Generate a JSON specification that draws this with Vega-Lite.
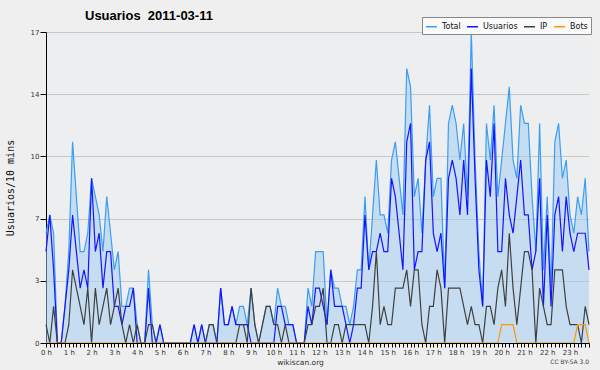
{
  "$schema": "https://vega.github.io/schema/vega-lite/v6.json",
  "width": 543,
  "height": 311,
  "autosize": {"type": "none"},
  "padding": {"left": 46, "top": 32, "right": 11, "bottom": 27},
  "background": "#efefef",
  "config": {
    "view": {"fill": "#edeef0", "stroke": null},
    "font": "DejaVu Sans",
    "axis": {"labelOverlap": false, "labelBound": false, "labelFlush": false}
  },
  "title": {"text": "Usuarios\u00a0\u00a02011-03-11", "anchor": "start", "frame": "group", "dx": 39, "dy": 27, "font": "Liberation Sans", "fontSize": 13, "fontWeight": "bold", "color": "#000", "baseline": "alphabetic", "offset": 11},
  "data": {"values": [
    {"i":0,"Total":6,"Usuarios":5,"IP":1,"Bots":0},
    {"i":1,"Total":7,"Usuarios":7,"IP":0,"Bots":0},
    {"i":2,"Total":6,"Usuarios":4,"IP":2,"Bots":0},
    {"i":3,"Total":0,"Usuarios":0,"IP":0,"Bots":0},
    {"i":4,"Total":0,"Usuarios":0,"IP":0,"Bots":0},
    {"i":5,"Total":2,"Usuarios":2,"IP":0,"Bots":0},
    {"i":6,"Total":5,"Usuarios":4,"IP":1,"Bots":0},
    {"i":7,"Total":11,"Usuarios":7,"IP":4,"Bots":0},
    {"i":8,"Total":8,"Usuarios":5,"IP":3,"Bots":0},
    {"i":9,"Total":5,"Usuarios":3,"IP":2,"Bots":0},
    {"i":10,"Total":5,"Usuarios":4,"IP":1,"Bots":0},
    {"i":11,"Total":6,"Usuarios":3,"IP":3,"Bots":0},
    {"i":12,"Total":9,"Usuarios":9,"IP":0,"Bots":0},
    {"i":13,"Total":8,"Usuarios":5,"IP":3,"Bots":0},
    {"i":14,"Total":7,"Usuarios":6,"IP":1,"Bots":0},
    {"i":15,"Total":5,"Usuarios":3,"IP":2,"Bots":0},
    {"i":16,"Total":8,"Usuarios":5,"IP":3,"Bots":0},
    {"i":17,"Total":6,"Usuarios":5,"IP":1,"Bots":0},
    {"i":18,"Total":4,"Usuarios":2,"IP":2,"Bots":0},
    {"i":19,"Total":5,"Usuarios":2,"IP":3,"Bots":0},
    {"i":20,"Total":2,"Usuarios":1,"IP":1,"Bots":0},
    {"i":21,"Total":2,"Usuarios":2,"IP":0,"Bots":0},
    {"i":22,"Total":3,"Usuarios":2,"IP":1,"Bots":0},
    {"i":23,"Total":3,"Usuarios":3,"IP":0,"Bots":0},
    {"i":24,"Total":1,"Usuarios":0,"IP":1,"Bots":0},
    {"i":25,"Total":0,"Usuarios":0,"IP":0,"Bots":0},
    {"i":26,"Total":0,"Usuarios":0,"IP":0,"Bots":0},
    {"i":27,"Total":4,"Usuarios":3,"IP":1,"Bots":0},
    {"i":28,"Total":1,"Usuarios":0,"IP":1,"Bots":0},
    {"i":29,"Total":0,"Usuarios":0,"IP":0,"Bots":0},
    {"i":30,"Total":1,"Usuarios":1,"IP":0,"Bots":0},
    {"i":31,"Total":0,"Usuarios":0,"IP":0,"Bots":0},
    {"i":32,"Total":0,"Usuarios":0,"IP":0,"Bots":0},
    {"i":33,"Total":0,"Usuarios":0,"IP":0,"Bots":0},
    {"i":34,"Total":0,"Usuarios":0,"IP":0,"Bots":0},
    {"i":35,"Total":0,"Usuarios":0,"IP":0,"Bots":0},
    {"i":36,"Total":0,"Usuarios":0,"IP":0,"Bots":0},
    {"i":37,"Total":0,"Usuarios":0,"IP":0,"Bots":0},
    {"i":38,"Total":0,"Usuarios":0,"IP":0,"Bots":0},
    {"i":39,"Total":1,"Usuarios":1,"IP":0,"Bots":0},
    {"i":40,"Total":0,"Usuarios":0,"IP":0,"Bots":0},
    {"i":41,"Total":1,"Usuarios":1,"IP":0,"Bots":0},
    {"i":42,"Total":0,"Usuarios":0,"IP":0,"Bots":0},
    {"i":43,"Total":1,"Usuarios":0,"IP":1,"Bots":0},
    {"i":44,"Total":1,"Usuarios":0,"IP":1,"Bots":0},
    {"i":45,"Total":0,"Usuarios":0,"IP":0,"Bots":0},
    {"i":46,"Total":3,"Usuarios":3,"IP":0,"Bots":0},
    {"i":47,"Total":1,"Usuarios":1,"IP":0,"Bots":0},
    {"i":48,"Total":1,"Usuarios":1,"IP":0,"Bots":0},
    {"i":49,"Total":2,"Usuarios":2,"IP":0,"Bots":0},
    {"i":50,"Total":1,"Usuarios":1,"IP":0,"Bots":0},
    {"i":51,"Total":2,"Usuarios":1,"IP":1,"Bots":0},
    {"i":52,"Total":2,"Usuarios":1,"IP":1,"Bots":0},
    {"i":53,"Total":1,"Usuarios":1,"IP":0,"Bots":0},
    {"i":54,"Total":3,"Usuarios":0,"IP":3,"Bots":0},
    {"i":55,"Total":1,"Usuarios":0,"IP":1,"Bots":0},
    {"i":56,"Total":0,"Usuarios":0,"IP":0,"Bots":0},
    {"i":57,"Total":1,"Usuarios":0,"IP":1,"Bots":0},
    {"i":58,"Total":2,"Usuarios":0,"IP":2,"Bots":0},
    {"i":59,"Total":2,"Usuarios":0,"IP":2,"Bots":0},
    {"i":60,"Total":1,"Usuarios":0,"IP":1,"Bots":0},
    {"i":61,"Total":3,"Usuarios":2,"IP":1,"Bots":0},
    {"i":62,"Total":2,"Usuarios":2,"IP":0,"Bots":0},
    {"i":63,"Total":2,"Usuarios":1,"IP":1,"Bots":0},
    {"i":64,"Total":1,"Usuarios":1,"IP":0,"Bots":0},
    {"i":65,"Total":1,"Usuarios":1,"IP":0,"Bots":0},
    {"i":66,"Total":0,"Usuarios":0,"IP":0,"Bots":0},
    {"i":67,"Total":0,"Usuarios":0,"IP":0,"Bots":0},
    {"i":68,"Total":0,"Usuarios":0,"IP":0,"Bots":0},
    {"i":69,"Total":3,"Usuarios":2,"IP":1,"Bots":0},
    {"i":70,"Total":2,"Usuarios":1,"IP":1,"Bots":0},
    {"i":71,"Total":5,"Usuarios":3,"IP":2,"Bots":0},
    {"i":72,"Total":5,"Usuarios":3,"IP":2,"Bots":0},
    {"i":73,"Total":5,"Usuarios":2,"IP":3,"Bots":0},
    {"i":74,"Total":1,"Usuarios":1,"IP":0,"Bots":0},
    {"i":75,"Total":4,"Usuarios":4,"IP":0,"Bots":0},
    {"i":76,"Total":3,"Usuarios":2,"IP":1,"Bots":0},
    {"i":77,"Total":3,"Usuarios":2,"IP":1,"Bots":0},
    {"i":78,"Total":2,"Usuarios":2,"IP":0,"Bots":0},
    {"i":79,"Total":2,"Usuarios":1,"IP":1,"Bots":0},
    {"i":80,"Total":1,"Usuarios":0,"IP":1,"Bots":0},
    {"i":81,"Total":2,"Usuarios":1,"IP":1,"Bots":0},
    {"i":82,"Total":4,"Usuarios":3,"IP":1,"Bots":0},
    {"i":83,"Total":4,"Usuarios":3,"IP":1,"Bots":0},
    {"i":84,"Total":8,"Usuarios":7,"IP":1,"Bots":0},
    {"i":85,"Total":4,"Usuarios":4,"IP":0,"Bots":0},
    {"i":86,"Total":7,"Usuarios":5,"IP":2,"Bots":0},
    {"i":87,"Total":10,"Usuarios":5,"IP":5,"Bots":0},
    {"i":88,"Total":7,"Usuarios":6,"IP":1,"Bots":0},
    {"i":89,"Total":7,"Usuarios":5,"IP":2,"Bots":0},
    {"i":90,"Total":6,"Usuarios":5,"IP":1,"Bots":0},
    {"i":91,"Total":10,"Usuarios":9,"IP":1,"Bots":0},
    {"i":92,"Total":11,"Usuarios":8,"IP":3,"Bots":0},
    {"i":93,"Total":9,"Usuarios":6,"IP":3,"Bots":0},
    {"i":94,"Total":7,"Usuarios":4,"IP":3,"Bots":0},
    {"i":95,"Total":15,"Usuarios":11,"IP":4,"Bots":0},
    {"i":96,"Total":14,"Usuarios":12,"IP":2,"Bots":0},
    {"i":97,"Total":8,"Usuarios":4,"IP":4,"Bots":0},
    {"i":98,"Total":9,"Usuarios":5,"IP":4,"Bots":0},
    {"i":99,"Total":6,"Usuarios":5,"IP":1,"Bots":0},
    {"i":100,"Total":10,"Usuarios":10,"IP":0,"Bots":0},
    {"i":101,"Total":13,"Usuarios":11,"IP":2,"Bots":0},
    {"i":102,"Total":8,"Usuarios":6,"IP":2,"Bots":0},
    {"i":103,"Total":9,"Usuarios":5,"IP":4,"Bots":0},
    {"i":104,"Total":9,"Usuarios":6,"IP":3,"Bots":0},
    {"i":105,"Total":3,"Usuarios":3,"IP":0,"Bots":0},
    {"i":106,"Total":12,"Usuarios":9,"IP":3,"Bots":0},
    {"i":107,"Total":13,"Usuarios":10,"IP":3,"Bots":0},
    {"i":108,"Total":12,"Usuarios":9,"IP":3,"Bots":0},
    {"i":109,"Total":10,"Usuarios":7,"IP":3,"Bots":0},
    {"i":110,"Total":12,"Usuarios":10,"IP":2,"Bots":0},
    {"i":111,"Total":8,"Usuarios":7,"IP":1,"Bots":0},
    {"i":112,"Total":17,"Usuarios":15,"IP":2,"Bots":0},
    {"i":113,"Total":10,"Usuarios":9,"IP":1,"Bots":0},
    {"i":114,"Total":5,"Usuarios":4,"IP":1,"Bots":0},
    {"i":115,"Total":2,"Usuarios":2,"IP":0,"Bots":0},
    {"i":116,"Total":12,"Usuarios":10,"IP":2,"Bots":0},
    {"i":117,"Total":10,"Usuarios":8,"IP":2,"Bots":0},
    {"i":118,"Total":13,"Usuarios":12,"IP":1,"Bots":0},
    {"i":119,"Total":8,"Usuarios":5,"IP":3,"Bots":0},
    {"i":120,"Total":10,"Usuarios":5,"IP":4,"Bots":1},
    {"i":121,"Total":12,"Usuarios":9,"IP":2,"Bots":1},
    {"i":122,"Total":14,"Usuarios":7,"IP":6,"Bots":1},
    {"i":123,"Total":10,"Usuarios":6,"IP":3,"Bots":1},
    {"i":124,"Total":9,"Usuarios":8,"IP":1,"Bots":0},
    {"i":125,"Total":13,"Usuarios":10,"IP":3,"Bots":0},
    {"i":126,"Total":12,"Usuarios":7,"IP":5,"Bots":0},
    {"i":127,"Total":12,"Usuarios":7,"IP":5,"Bots":0},
    {"i":128,"Total":8,"Usuarios":4,"IP":4,"Bots":0},
    {"i":129,"Total":5,"Usuarios":5,"IP":0,"Bots":0},
    {"i":130,"Total":12,"Usuarios":9,"IP":3,"Bots":0},
    {"i":131,"Total":4,"Usuarios":2,"IP":2,"Bots":0},
    {"i":132,"Total":8,"Usuarios":7,"IP":1,"Bots":0},
    {"i":133,"Total":3,"Usuarios":2,"IP":1,"Bots":0},
    {"i":134,"Total":11,"Usuarios":7,"IP":4,"Bots":0},
    {"i":135,"Total":12,"Usuarios":8,"IP":4,"Bots":0},
    {"i":136,"Total":9,"Usuarios":5,"IP":4,"Bots":0},
    {"i":137,"Total":10,"Usuarios":8,"IP":2,"Bots":0},
    {"i":138,"Total":7,"Usuarios":6,"IP":1,"Bots":0},
    {"i":139,"Total":6,"Usuarios":5,"IP":1,"Bots":0},
    {"i":140,"Total":8,"Usuarios":6,"IP":1,"Bots":1},
    {"i":141,"Total":7,"Usuarios":6,"IP":0,"Bots":1},
    {"i":142,"Total":9,"Usuarios":6,"IP":2,"Bots":1},
    {"i":143,"Total":5,"Usuarios":4,"IP":1,"Bots":0}
  ]},
  "encoding": {
    "x": {"field": "i", "type": "quantitative",
      "scale": {"domain": [0, 143], "nice": false, "zero": false},
      "axis": {
        "values": [0,1,2,3,4,5,6,7,8,9,10,11,12,13,14,15,16,17,18,19,20,21,22,23,24,25,26,27,28,29,30,31,32,33,34,35,36,37,38,39,40,41,42,43,44,45,46,47,48,49,50,51,52,53,54,55,56,57,58,59,60,61,62,63,64,65,66,67,68,69,70,71,72,73,74,75,76,77,78,79,80,81,82,83,84,85,86,87,88,89,90,91,92,93,94,95,96,97,98,99,100,101,102,103,104,105,106,107,108,109,110,111,112,113,114,115,116,117,118,119,120,121,122,123,124,125,126,127,128,129,130,131,132,133,134,135,136,137,138,139,140,141,142,143],
        "labelExpr": "datum.value % 6 == 0 ? (datum.value / 6) + ' h' : ''",
        "labelOverlap": false, "labelBound": false, "labelFlush": false,
        "tickSize": 4, "tickColor": "#000", "domainColor": "#000",
        "labelFontSize": 7, "labelColor": "#333", "labelPadding": 1,
        "grid": false, "zindex": 1,
        "title": "wikiscan.org", "titleFontSize": 7.5, "titleFontWeight": "normal",
        "titleColor": "#333", "titleX": 254, "titleY": 19, "titleBaseline": "middle", "titleAlign": "center"
      }}
  },
  "layer": [
    {
      "mark": {"type": "area", "color": "#9fccf2", "opacity": 0.5},
      "encoding": {
        "y": {"field": "Total", "type": "quantitative",
          "scale": {"domain": [0, 17], "nice": false},
          "axis": {
            "values": [0,0.85,1.7,2.55,3.4,4.25,5.1,5.95,6.8,7.65,8.5,9.35,10.2,11.05,11.9,12.75,13.6,14.45,15.3,16.15,17],
            "labelExpr": "indexof([0,3.4,6.8,10.2,13.6,17], datum.value) >= 0 ? format(round(datum.value), 'd') : ''",
            "labelOverlap": false, "labelBound": false, "labelFlush": false,
            "tickSize": {"condition": {"test": "indexof([0,3.4,6.8,10.2,13.6,17], datum.value) >= 0", "value": 6}, "value": 3},
            "grid": true, "gridColor": "#c8c8c8",
            "gridOpacity": {"condition": {"test": "indexof([3.4,6.8,10.2,13.6,17], datum.value) >= 0", "value": 1}, "value": 0},
            "tickColor": "#000", "domainColor": "#000",
            "labelFontSize": 7, "labelColor": "#333", "labelPadding": 1,
            "title": "Usuarios/10 mins", "titleFont": "DejaVu Sans Mono", "titleFontSize": 10,
            "titleFontWeight": "normal", "titleColor": "#111",
            "titleX": -36, "titleY": 155.5, "titleBaseline": "middle", "titleAlign": "center"
          }}
      }
    },
    {
      "transform": [{"fold": ["Total", "Usuarios", "IP", "Bots"], "as": ["serie", "v"]}],
      "mark": {"type": "line", "strokeWidth": 1.2},
      "encoding": {
        "y": {"field": "v", "type": "quantitative"},
        "color": {"field": "serie", "type": "nominal",
          "scale": {"domain": ["Total", "Usuarios", "IP", "Bots"], "range": ["#3b9ef3", "#1414ff", "#404040", "#ff9900"]},
          "legend": {"title": null, "orient": "none", "legendX": 376, "legendY": -15, "direction": "horizontal",
            "symbolType": "stroke", "symbolStrokeWidth": 1.5, "symbolSize": 121,
            "labelFont": "DejaVu Sans", "labelFontSize": 8, "labelColor": "#111", "labelOffset": 4,
            "columnPadding": 3, "padding": 3, "fillColor": "#fafafa", "strokeColor": "#888"}}
      }
    },
    {
      "transform": [{"filter": "datum.i == 143"}],
      "mark": {"type": "text", "align": "right", "baseline": "middle", "fontSize": 6, "font": "DejaVu Sans", "color": "#444"},
      "encoding": {
        "y": {"datum": -1.04},
        "text": {"value": "CC BY-SA 3.0"}
      }
    }
  ]
}
